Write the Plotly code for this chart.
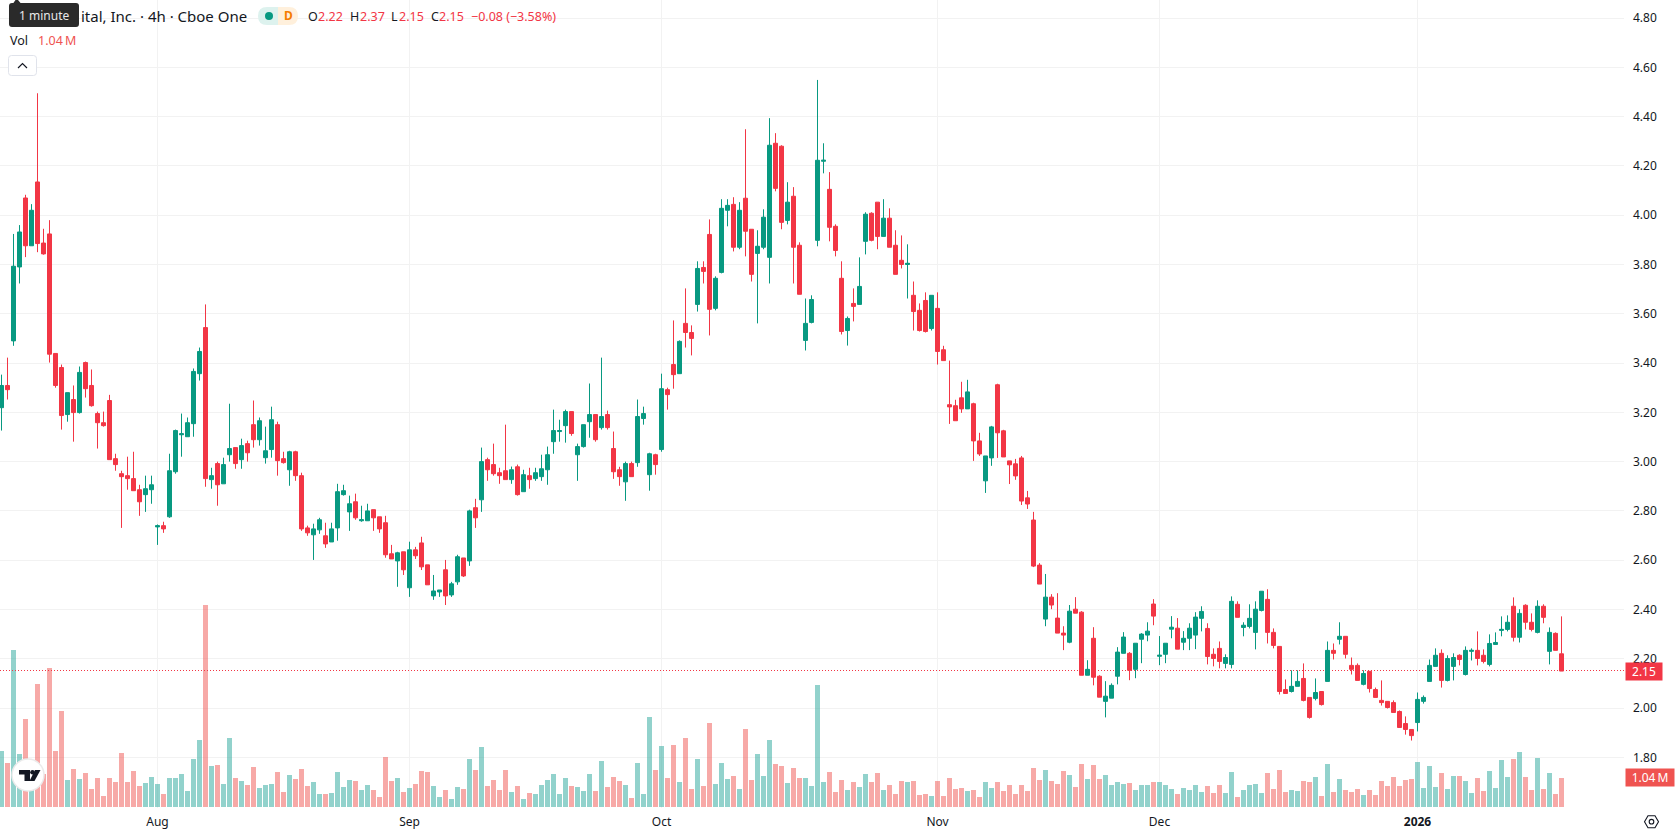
import re
import plotly.graph_objects as go

# Four-hour candles, oldest first
opens = [
    3.219,3.309,3.49,3.79,4.07,3.876,4.135,3.887,3.924,3.439,
    3.382,3.191,3.252,3.199,3.402,3.309,3.195,3.158,3.248,3.012,
    2.951,2.943,2.931,2.886,2.866,2.886,2.735,2.74,2.776,2.959,
    3.109,3.101,3.154,3.357,3.544,2.927,2.992,2.91,3.028,3.057,
    3.008,3.073,3.15,3.089,3.016,3.049,3.15,3.012,2.967,3.04,
    2.943,2.731,2.703,2.723,2.699,2.674,2.731,2.866,2.796,2.837,
    2.76,2.76,2.805,2.776,2.752,2.626,2.597,2.634,2.488,2.642,
    2.67,2.581,2.455,2.471,2.561,2.459,2.512,2.609,2.597,2.813,
    2.845,3.008,2.988,2.955,2.963,2.927,2.979,2.878,2.943,2.931,
    2.939,2.967,3.081,3.122,3.146,3.203,3.028,3.061,3.162,3.191,
    3.138,3.191,3.053,2.967,2.918,2.992,2.996,3.175,2.947,3.028,
    3.049,3.292,3.394,3.357,3.561,3.524,3.638,3.788,3.922,3.622,
    3.768,4.02,4.044,3.87,4.069,3.943,3.845,3.87,3.829,4.292,
    4.28,3.979,4.077,3.878,3.492,3.565,3.898,4.219,4.105,3.955,
    3.744,3.532,3.642,3.638,3.894,4.008,4.053,3.914,3.988,3.878,
    3.817,3.8,3.675,3.614,3.654,3.54,3.622,3.454,3.231,3.227,
    3.259,3.214,3.235,3.084,2.922,3.015,3.312,3.125,3.003,2.991,
    3.015,2.853,2.763,2.58,2.361,2.45,2.365,2.304,2.267,2.401,
    2.389,2.133,2.283,2.129,2.027,2.04,2.129,2.222,2.222,2.157,
    2.279,2.296,2.422,2.21,2.218,2.32,2.324,2.267,2.283,2.296,
    2.364,2.323,2.218,2.242,2.181,2.177,2.421,2.327,2.331,2.307,
    2.396,2.441,2.307,2.25,2.075,2.067,2.088,2.12,2.043,2.039,
    2.067,2.108,2.234,2.279,2.291,2.173,2.173,2.096,2.149,2.075,
    2.031,2.027,2.022,1.986,1.937,1.913,1.941,2.027,2.108,2.169,
    2.222,2.112,2.169,2.214,2.136,2.23,2.234,2.214,2.177,2.258,
    2.315,2.319,2.413,2.287,2.417,2.348,2.307,2.413,2.23,2.303,
    2.22,
]
highs = [
    3.353,3.422,3.924,3.96,4.083,4.045,4.495,3.945,3.98,3.439,
    3.394,3.28,3.309,3.386,3.406,3.374,3.203,3.203,3.271,3.032,
    2.963,3.02,3.04,2.906,2.943,2.943,2.745,2.756,3.032,3.13,
    3.195,3.179,3.378,3.463,3.638,2.975,3.0,3.016,3.235,3.057,
    3.093,3.085,3.248,3.179,3.142,3.223,3.162,3.04,3.044,3.044,
    2.955,2.74,2.748,2.772,2.752,2.752,2.91,2.906,2.862,2.87,
    2.821,2.829,2.805,2.776,2.78,2.662,2.634,2.634,2.675,2.654,
    2.695,2.581,2.54,2.479,2.601,2.512,2.622,2.609,2.805,2.849,
    3.057,3.016,3.073,2.975,3.15,2.98,2.988,2.967,2.975,2.975,
    3.028,3.061,3.211,3.17,3.211,3.203,3.073,3.15,3.317,3.191,
    3.422,3.207,3.122,2.979,3.0,3.0,3.252,3.223,3.036,3.032,
    3.357,3.3,3.573,3.492,3.703,3.553,3.813,3.813,3.983,3.752,
    4.065,4.065,4.073,4.053,4.349,3.943,3.939,4.024,4.394,4.333,
    4.284,4.134,4.114,3.89,3.662,3.675,4.549,4.292,4.175,3.963,
    3.813,3.589,3.703,3.829,4.012,4.012,4.053,4.065,4.028,3.939,
    3.918,3.882,3.731,3.642,3.687,3.675,3.687,3.47,3.41,3.251,
    3.324,3.332,3.239,3.117,3.023,3.145,3.316,3.129,3.003,3.011,
    3.023,2.881,2.796,2.588,2.544,2.462,2.466,2.332,2.418,2.45,
    2.393,2.194,2.328,2.133,2.109,2.1,2.247,2.308,2.227,2.263,
    2.304,2.348,2.442,2.292,2.263,2.373,2.365,2.312,2.344,2.389,
    2.413,2.344,2.242,2.27,2.218,2.453,2.433,2.348,2.421,2.433,
    2.474,2.482,2.323,2.25,2.116,2.153,2.153,2.181,2.043,2.12,
    2.067,2.27,2.262,2.348,2.291,2.205,2.181,2.153,2.149,2.083,
    2.112,2.027,2.031,1.99,1.966,1.913,2.063,2.051,2.197,2.242,
    2.238,2.214,2.222,2.218,2.25,2.242,2.311,2.238,2.299,2.307,
    2.372,2.376,2.449,2.401,2.421,2.384,2.437,2.421,2.327,2.307,
    2.372,
]
lows = [
    3.126,3.252,3.47,3.723,3.83,3.876,3.85,3.84,3.402,3.30,
    3.13,3.162,3.081,3.195,3.26,3.223,3.053,3.142,3.008,2.963,
    2.731,2.886,2.882,2.78,2.796,2.829,2.662,2.711,2.772,2.951,
    3.02,3.101,3.101,3.329,2.898,2.89,2.821,2.91,3.0,2.971,
    2.971,3.0,3.057,3.065,2.992,3.016,2.943,2.992,2.902,2.922,
    2.719,2.699,2.601,2.707,2.65,2.674,2.679,2.862,2.719,2.764,
    2.756,2.76,2.719,2.711,2.61,2.605,2.492,2.54,2.451,2.605,
    2.56,2.5,2.439,2.451,2.418,2.451,2.5,2.532,2.577,2.731,
    2.796,2.922,2.943,2.91,2.927,2.91,2.862,2.878,2.89,2.922,
    2.922,2.906,3.032,3.081,3.077,3.105,2.922,3.057,3.097,3.081,
    3.13,3.13,2.93,2.902,2.841,2.939,2.979,3.15,2.882,2.947,
    3.04,3.211,3.296,3.357,3.463,3.431,3.609,3.723,3.512,3.614,
    3.764,3.955,3.853,3.862,3.833,3.731,3.561,3.862,3.723,4.097,
    3.943,3.963,3.723,3.679,3.451,3.561,3.874,4.17,3.894,3.833,
    3.516,3.471,3.569,3.638,3.841,3.894,3.862,3.914,3.87,3.76,
    3.784,3.662,3.532,3.528,3.524,3.532,3.394,3.41,3.153,3.166,
    3.198,3.214,3.003,3.023,2.873,2.983,3.015,3.019,2.909,2.926,
    2.824,2.808,2.572,2.503,2.332,2.401,2.304,2.235,2.263,2.385,
    2.133,2.133,2.092,2.044,1.962,2.04,2.096,2.222,2.113,2.121,
    2.182,2.271,2.336,2.174,2.182,2.283,2.239,2.235,2.235,2.239,
    2.311,2.177,2.169,2.161,2.161,2.161,2.368,2.291,2.323,2.238,
    2.392,2.262,2.242,2.055,2.059,2.063,2.088,2.027,1.957,2.031,
    2.01,2.108,2.197,2.258,2.201,2.136,2.112,2.092,2.063,2.043,
    2.01,1.998,1.982,1.921,1.892,1.868,1.905,2.018,2.108,2.169,
    2.083,2.108,2.112,2.173,2.132,2.193,2.173,2.181,2.169,2.258,
    2.291,2.311,2.27,2.266,2.319,2.311,2.303,2.344,2.177,2.234,
    2.15,
]
closes = [
    3.309,3.292,3.793,3.932,3.876,4.02,3.885,3.843,3.436,3.309,
    3.187,3.28,3.199,3.362,3.296,3.227,3.158,3.146,3.008,2.988,
    2.939,2.931,2.882,2.837,2.89,2.906,2.74,2.727,2.963,3.126,
    3.113,3.158,3.366,3.447,2.931,2.943,2.906,2.988,3.053,2.992,
    3.065,3.036,3.089,3.166,3.044,3.17,3.004,2.996,3.04,2.943,
    2.727,2.711,2.727,2.764,2.666,2.727,2.878,2.882,2.829,2.772,
    2.764,2.8,2.772,2.727,2.622,2.605,2.63,2.561,2.642,2.618,
    2.573,2.5,2.475,2.479,2.455,2.504,2.614,2.536,2.8,2.772,
    3.0,2.967,2.951,2.943,2.927,2.967,2.866,2.947,2.927,2.955,
    2.971,3.028,3.126,3.126,3.203,3.114,3.061,3.15,3.191,3.089,
    3.183,3.138,2.959,2.939,2.992,2.939,3.183,3.195,3.032,2.988,
    3.296,3.272,3.353,3.488,3.524,3.5,3.784,3.772,3.618,3.744,
    4.028,4.04,3.87,4.02,3.935,3.76,3.874,3.992,4.284,4.109,
    3.971,4.053,3.87,3.679,3.561,3.658,4.223,4.223,3.951,3.857,
    3.528,3.581,3.63,3.711,4.004,3.898,3.914,3.988,3.87,3.76,
    3.8,3.805,3.609,3.532,3.528,3.675,3.447,3.41,3.222,3.166,
    3.214,3.283,3.084,3.031,3.023,3.141,3.117,3.019,2.987,2.942,
    2.84,2.828,2.576,2.503,2.45,2.418,2.304,2.296,2.393,2.385,
    2.133,2.157,2.125,2.044,2.048,2.092,2.227,2.288,2.153,2.263,
    2.3,2.312,2.373,2.214,2.263,2.328,2.239,2.283,2.324,2.369,
    2.392,2.209,2.201,2.189,2.205,2.433,2.368,2.336,2.364,2.401,
    2.474,2.307,2.254,2.067,2.059,2.088,2.108,2.031,1.962,2.063,
    2.014,2.234,2.222,2.291,2.218,2.157,2.112,2.14,2.079,2.043,
    2.022,2.002,1.982,1.921,1.913,1.888,2.035,2.043,2.173,2.214,
    2.112,2.201,2.205,2.197,2.234,2.234,2.201,2.189,2.262,2.266,
    2.319,2.348,2.287,2.384,2.348,2.319,2.413,2.368,2.307,2.234,
    2.15,
]
# Traded volume per bar, in millions of shares
volumes = [
    2.0,1.57,5.62,1.89,3.14,1.2,4.4,1.2,4.97,2.0,
    3.43,.96,1.35,.99,1.21,.63,1.03,.38,1.03,.88,
    1.92,.88,1.28,.74,.85,1.06,.81,.45,1.03,1.03,
    1.17,.56,1.71,2.39,7.25,1.46,1.49,.81,2.46,1.03,
    .92,.78,1.42,.67,.78,.81,1.24,.53,1.14,.99,
    1.35,.74,.88,.45,.45,.49,1.24,.71,.96,.92,
    .6,.78,.6,.35,1.78,.92,1.03,.53,.67,.81,
    1.28,1.24,.74,.35,.6,.27,.71,.63,1.71,1.31,
    2.14,.74,.96,.6,1.31,.53,.74,.27,.49,.45,
    .78,.96,1.17,.45,1.03,.74,.71,.56,1.17,.56,
    1.64,.71,1.06,.92,.78,.31,1.57,.45,3.21,1.31,
    2.17,1.03,2.21,.88,2.46,.63,1.71,.74,3.0,.81,
    1.57,.99,1.1,.63,2.78,.96,1.89,1.1,2.39,1.53,
    1.46,.85,1.39,1.03,1.03,.74,4.36,.88,1.24,.53,
    .96,.6,.88,.71,1.17,.88,1.21,.6,.78,.45,
    .92,.88,.92,.42,.45,.38,.92,.38,1.03,.63,
    .67,.56,.6,.35,.88,.67,.88,.56,.78,.45,
    .78,.56,1.39,.96,1.31,.92,.81,1.28,1.14,.71,
    1.53,.99,1.49,.99,1.14,.78,.88,.82,.86,.61,
    .79,.79,.9,.9,.79,.65,.47,.68,.61,.79,
    .54,.75,.5,.79,.5,1.25,.36,.61,.79,.82,
    .5,1.22,.65,1.33,.54,.61,.57,.93,.9,1.08,
    .39,1.54,.54,1.0,.61,.54,.65,.43,.61,.43,
    .93,.75,1.08,.75,.97,1.0,1.61,.68,1.47,.72,
    1.22,.65,1.11,1.11,.93,.5,1.04,.57,1.29,.68,
    1.69,1.08,1.72,1.97,1.08,.61,1.76,.65,1.22,.47,
    1.04,
]
bars = list(range(len(closes)))

# Month boundaries on the time scale
month_bars = [26, 68, 110, 156, 193, 236]
month_labels = ["Aug", "Sep", "Oct", "Nov", "Dec", "<b>2026</b>"]
price_ticks = [1.8 + 0.2 * k for k in range(16)]
price_labels = [f"{p:.2f}" for p in price_ticks]

W, H = 1678, 835
PANE_W, PANE_H = 1624, 808
BAR_PX = 6.0
PRICE_PX = 246.4          # pixels per 1.00 of price
VOL_PX = 27.9             # pixels per million shares
PRICE_RANGE = [1.8 + (757.3 - PANE_H) / PRICE_PX, 1.8 + 757.3 / PRICE_PX]
VOL_RANGE = [-(PANE_H - 807) / VOL_PX, 807 / VOL_PX]
# The last-price line gets its own axis, nudged so the dots land on one pixel row
LINE_NUDGE = 0.56 / PRICE_PX
LINE_RANGE = [PRICE_RANGE[0] - LINE_NUDGE, PRICE_RANGE[1] - LINE_NUDGE]

UP, DOWN = "#089981", "#F23645"
VOL_UP, VOL_DOWN = "rgba(38,166,154,0.5)", "rgba(239,83,80,0.5)"
GRID = "#F2F2F2"
TEXT = "#131722"
FONT = "Noto Sans"


def fx(x):
    return x / W


def fy(y):
    return 1 - y / H


def page_path(spec):
    """Turn a path written in page pixels into paper coordinates."""
    out, is_x = [], True
    for tok in re.findall(r"[A-Za-z]|-?[\d.]+", spec):
        if tok.isalpha():
            out.append(tok)
            is_x = True
        else:
            out.append(f"{fx(float(tok)) if is_x else fy(float(tok)):.5f}")
            is_x = not is_x
    return " ".join(out)


def rounded(x0, y0, x1, y1, r):
    return page_path(
        f"M {x0+r} {y0} L {x1-r} {y0} Q {x1} {y0} {x1} {y0+r} L {x1} {y1-r} "
        f"Q {x1} {y1} {x1-r} {y1} L {x0+r} {y1} Q {x0} {y1} {x0} {y1-r} "
        f"L {x0} {y0+r} Q {x0} {y0} {x0+r} {y0} Z"
    )


def blob(spec_or_path, fill=None, line=None, width=1):
    return dict(type="path", xref="paper", yref="paper", path=spec_or_path,
                fillcolor=fill or "rgba(0,0,0,0)",
                line=dict(color=line or "rgba(0,0,0,0)", width=width if line else 0),
                layer="above")


def disc(cx, cy, r, fill, line=None, width=1):
    return dict(type="circle", xref="paper", yref="paper",
                x0=fx(cx - r), x1=fx(cx + r), y0=fy(cy + r), y1=fy(cy - r),
                fillcolor=fill,
                line=dict(color=line or "rgba(0,0,0,0)", width=width if line else 0),
                layer="above")


def label(x, y, text, color=TEXT, size=13):
    return dict(xref="paper", yref="paper", x=fx(x), y=fy(y), text=text,
                xanchor="left", yanchor="middle", showarrow=False,
                font=dict(family=FONT, size=size, color=color))


fig = go.Figure()

fig.add_trace(go.Bar(
    x=bars, y=volumes, width=5 / BAR_PX, yaxis="y", hoverinfo="skip",
    marker=dict(color=[VOL_UP if c >= o else VOL_DOWN for o, c in zip(opens, closes)],
                line=dict(width=0)),
))
# Last-price line runs under the candles and over the volume
fig.add_trace(go.Scatter(
    x=[-0.25, bars[-1] + 20], y=[closes[-1]] * 2, mode="lines", yaxis="y3",
    hoverinfo="skip", line=dict(color=DOWN, width=1, dash="1px,2px"),
))
fig.add_trace(go.Candlestick(
    x=bars, open=opens, high=highs, low=lows, close=closes, yaxis="y4",
    hoverinfo="skip", whiskerwidth=0,
    increasing=dict(line=dict(color=UP, width=1), fillcolor=UP),
    decreasing=dict(line=dict(color=DOWN, width=1), fillcolor=DOWN),
))

shapes = [
    # Logo badge
    disc(28, 775, 16, "#FFFFFF", "#EBEBEB", 1.5),
    blob(page_path("M 19 770 L 30 770 L 30 781 L 24.5 781 L 24.5 774.5 L 19 774.5 Z"), "#131722"),
    disc(32.5, 772.3, 2.3, "#131722"),
    blob(page_path("M 35 770 L 40.5 770 L 34.5 781 L 29.5 781 Z"), "#131722"),
    # Interval tooltip
    blob(page_path("M 9 3.5 L 13 3.5 L 15.5 0 L 18 0 L 21 3.5 L 9 3.5 Z"), "#2A2A2A"),
    blob(rounded(9, 3, 79, 27, 3), "#2A2A2A"),
    # Market status pill
    blob(page_path("M 278 7 L 267 7 Q 258 7 258 16 Q 258 25 267 25 L 278 25 Z"), "#DDF2EE"),
    blob(page_path("M 278 7 L 289 7 Q 298 7 298 16 Q 298 25 289 25 L 278 25 Z"), "#FFF0DC"),
    disc(269, 16, 4, "#089981"),
    # Collapse button
    blob(rounded(8.5, 55.5, 36.5, 75.5, 3), "#FFFFFF", "#E0E3EB", 1),
    blob(page_path("M 18 68 L 22.5 63.5 L 27 68"), None, TEXT, 1.2),
    # Settings hexagon
    blob(page_path("M 1644.5 821.7 L 1648 815.7 L 1655 815.7 L 1658.5 821.7 L 1655 827.7 L 1648 827.7 Z"),
         None, TEXT, 1.1),
    dict(type="circle", xref="paper", yref="paper", x0=fx(1649.2), x1=fx(1653.8),
         y0=fy(824), y1=fy(819.4), line=dict(color=TEXT, width=1.1), layer="above"),
]

annotations = [
    label(79, 16, "ital, Inc. · 4h · Cboe One", size=15),
    label(17, 15.5, "1 minute", "#E8E8E8", 12),
    label(281.5, 16, "<b>D</b>", "#F57C00", 12),
    label(305.5, 16.5, "O", size=12.5),
    label(316, 16.5, "2.22", DOWN, 12.5),
    label(348, 16.5, "H", size=12.5),
    label(358, 16.5, "2.37", DOWN, 12.5),
    label(389, 16.5, "L", size=12.5),
    label(397, 16.5, "2.15", DOWN, 12.5),
    label(429, 16.5, "C", size=12.5),
    label(437, 16.5, "2.15", DOWN, 12.5),
    label(469, 16.5, "−0.08 (−3.58%)", DOWN, 12.5),
    label(7.5, 40.5, "Vol", size=12.5),
    label(35.5, 40.5, "1.04\u2009M", "#EF5350", 12.5),
    # Scale badges sit at the last close and the last volume
    dict(xref="paper", yref="y2", x=fx(1625), y=closes[-1], text=f"{closes[-1]:.2f}",
         xanchor="left", yanchor="middle", showarrow=False, width=36, height=17,
         bgcolor=DOWN, borderpad=0, font=dict(family=FONT, size=12, color="#FFFFFF")),
    dict(xref="paper", yref="y", x=fx(1625), y=volumes[-1], text=f"{volumes[-1]:.2f}\u2009M",
         xanchor="left", yanchor="middle", showarrow=False, width=48, height=17,
         bgcolor="#EF5350", borderpad=0, font=dict(family=FONT, size=12, color="#FFFFFF")),
]

pane_bottom = 1 - PANE_H / H
fig.update_layout(
    width=W, height=H, margin=dict(l=0, r=0, t=0, b=0),
    paper_bgcolor="#FFFFFF", plot_bgcolor="#FFFFFF",
    showlegend=False, hovermode=False, boxgap=1 / 3, boxgroupgap=0, bargap=0,
    xaxis=dict(
        domain=[0, PANE_W / W], range=[-0.25, (PANE_W - 1.5) / BAR_PX],
        tickmode="array", tickvals=month_bars, ticktext=month_labels,
        showgrid=True, gridcolor=GRID, gridwidth=1, zeroline=False, showline=False,
        ticks="", ticklabelstandoff=5, rangeslider=dict(visible=False),
        tickfont=dict(family=FONT, size=12, color=TEXT),
    ),
    yaxis=dict(domain=[pane_bottom, 1], range=VOL_RANGE, visible=False),
    yaxis2=dict(
        domain=[pane_bottom, 1], range=PRICE_RANGE, overlaying="y", side="right",
        anchor="x", tickmode="array", tickvals=price_ticks, ticktext=price_labels,
        showgrid=True, gridcolor=GRID, gridwidth=1, zeroline=False, showline=False,
        ticks="", ticklabelstandoff=8,
        tickfont=dict(family=FONT, size=12, color=TEXT),
    ),
    yaxis3=dict(domain=[pane_bottom, 1], range=LINE_RANGE, overlaying="y",
                anchor="x", visible=False),
    yaxis4=dict(domain=[pane_bottom, 1], range=PRICE_RANGE, overlaying="y",
                anchor="x", visible=False),
    shapes=shapes,
    annotations=annotations,
)

fig.write_html("out.html", config=dict(displayModeBar=False))
